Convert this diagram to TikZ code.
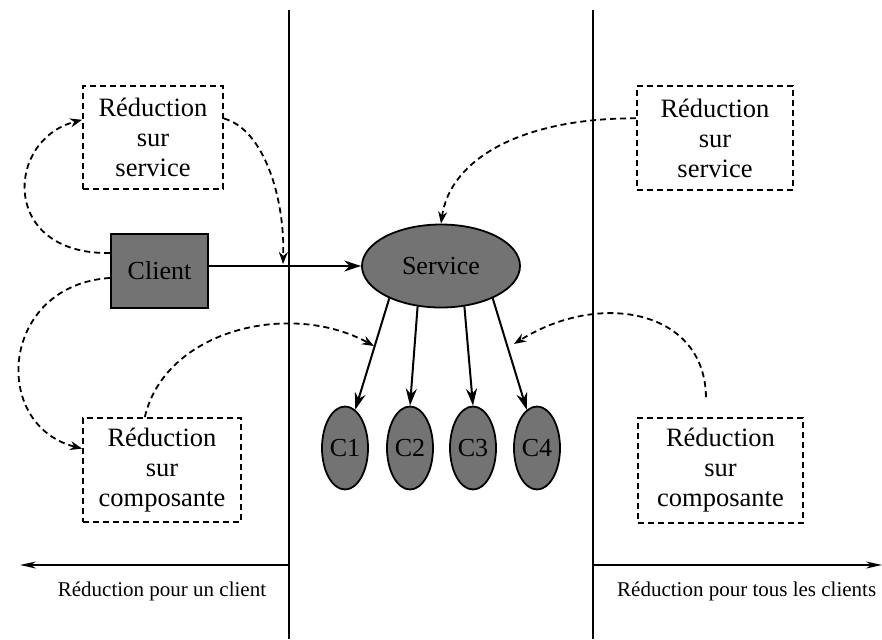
\documentclass[tikz,border=0pt]{standalone}
\usepackage{fontspec}
\setmainfont{Liberation Serif}
\usetikzlibrary{arrows.meta,shapes.geometric}
\begin{document}
\begin{tikzpicture}[x=1pt,y=-1pt,
  redbox/.style={draw,dash pattern=on 6pt off 4pt,line width=1.8pt,align=center,inner sep=0pt,font=\fontsize{26.5}{30}\selectfont},
  filled/.style={draw,line width=1.8pt,fill=black!55,font=\fontsize{26}{30}\selectfont,inner sep=0pt},
  dasharrow/.style={dash pattern=on 6pt off 4pt,line width=1.8pt,-{Stealth[length=12pt,width=9pt]}},
  solidarrow/.style={line width=2pt,-{Stealth[length=17pt,width=11pt]}},
  axisline/.style={line width=1.8pt},
  axisarrow/.style={line width=1.8pt,-{Stealth[length=16pt,width=7pt]}},
  bottomlabel/.style={font=\fontsize{21}{24}\selectfont,inner sep=0pt}]
\useasboundingbox (0,0) rectangle (882,639);
\fill[white] (0,0) rectangle (882,639);
% vertical separators
\coordinate (v1t) at (289,10);
\coordinate (v1b) at (289,639);
\coordinate (v2t) at (593,10);
\coordinate (v2b) at (593,639);
\draw[axisline] (v1t) -- (v1b);
\draw[axisline] (v2t) -- (v2b);
% bottom arrows
\coordinate (l1s) at (289,565);
\coordinate (l1e) at (20,565);
\coordinate (l2s) at (593,565);
\coordinate (l2e) at (882,565);
\draw[axisarrow] (l1s) -- (l1e);
\draw[axisarrow] (l2s) -- (l2e);
\node[bottomlabel] (lbl1) at (162,591) {Réduction pour un client};
\node[bottomlabel,anchor=west] (lbl2) at (617,591) {Réduction pour tous les clients};
% boxes
\node[redbox,minimum width=140pt,minimum height=103pt] (lsvc) at (153,137.5) {Réduction\\sur\\service};
\node[redbox,minimum width=156pt,minimum height=104pt] (rsvc) at (715,138) {Réduction\\sur\\service};
\node[redbox,minimum width=158pt,minimum height=104pt] (lcmp) at (162,470) {Réduction\\sur\\composante};
\node[redbox,minimum width=165pt,minimum height=105pt] (rcmp) at (720.5,470.5) {Réduction\\sur\\composante};
% filled shapes
\node[filled,rectangle,minimum width=97pt,minimum height=74pt] (client) at (159.5,271) {Client};
\node[filled,ellipse,minimum width=158pt,minimum height=83pt] (service) at (441,266) {Service};
\node[filled,ellipse,minimum width=46pt,minimum height=83pt] (c1) at (345,448) {C1};
\node[filled,ellipse,minimum width=46pt,minimum height=83pt] (c2) at (410,448) {C2};
\node[filled,ellipse,minimum width=46pt,minimum height=83pt] (c3) at (473,448) {C3};
\node[filled,ellipse,minimum width=46pt,minimum height=83pt] (c4) at (537,448) {C4};
% solid arrows
\draw[solidarrow] (client.east |- service.west) -- (service.west);
\draw[solidarrow] (service.212) -- (c1.75);
\draw[solidarrow] (service.240) -- (c2.north);
\draw[solidarrow] (service.300) -- (c3.north);
\draw[solidarrow] (service.328) -- (c4.105);
% dashed arrows
\coordinate (q2) at (283,264);
\coordinate (q4) at (374,346);
\coordinate (q6) at (514,344);
\draw[dasharrow] (client.160) .. controls (0,255) and (5,140) .. (lsvc.166);
\draw[dasharrow] (lsvc.15) .. controls (265,130) and (285,200) .. (q2);
\draw[dasharrow] (client.188) .. controls (0,285) and (-10,425) .. (lcmp.165);
\draw[dasharrow] (lcmp.108) .. controls (165,330) and (290,300) .. (q4);
\draw[dasharrow] (rsvc.166) .. controls (520,118) and (450,160) .. (service.north);
\draw[dasharrow,shorten <=20pt] (rcmp.105) .. controls (705,310) and (600,290) .. (q6);
\end{tikzpicture}
\end{document}
